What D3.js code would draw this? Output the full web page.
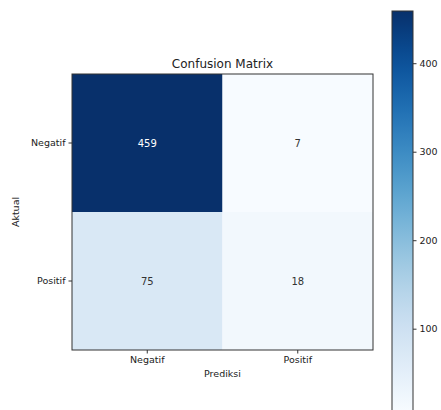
<!DOCTYPE html>
<html>
<head>
<meta charset="utf-8">
<script src="https://cdn.jsdelivr.net/npm/d3@7"></script>
<style>
  body { margin: 0; background: #fff; }
  text { font-family: "DejaVu Sans", sans-serif; fill: #222; }
</style>
</head>
<body>
<div id="chart"></div>
<script>
// data
const labels = ["Negatif", "Positif"]
const actual = ["Negatif", "Negatif", "Positif", "Positif"]
const predicted = ["Negatif", "Positif", "Negatif", "Positif"]
const counts = [459, 7, 75, 18]
const cbarTicks = [100, 200, 300, 400]

const width = 441, height = 410

const svg = d3.select('#chart').append('svg')
    .attr('width', width)
    .attr('height', height)

// plot area
const plot = { left: 72, top: 74, right: 373, bottom: 350 }

const x = d3.scaleBand().domain(labels).range([plot.left, plot.right])
const y = d3.scaleBand().domain(labels).range([plot.top, plot.bottom])

const vmin = d3.min(counts), vmax = d3.max(counts)
const color = d3.scaleSequential(d3.interpolateBlues).domain([vmin, vmax])

const cells = counts.map((v, i) => ({ a: actual[i], p: predicted[i], v: v }))

svg.append('g')
    .selectAll('rect')
    .data(cells)
    .enter()
    .append('rect')
    .attr('x', d => x(d.p))
    .attr('y', d => y(d.a))
    .attr('width', x.bandwidth())
    .attr('height', y.bandwidth())
    .attr('fill', d => color(d.v))

svg.append('g')
    .selectAll('text')
    .data(cells)
    .enter()
    .append('text')
    .attr('x', d => x(d.p) + x.bandwidth() / 2)
    .attr('y', d => y(d.a) + y.bandwidth() / 2)
    .attr('dy', '0.35em')
    .attr('text-anchor', 'middle')
    .style('font-size', '10px')
    .style('fill', d => d.v > (vmin + vmax) / 2 ? '#fff' : '#333')
    .text(d => d.v)

// frame
svg.append('rect')
    .attr('x', plot.left)
    .attr('y', plot.top)
    .attr('width', plot.right - plot.left)
    .attr('height', plot.bottom - plot.top)
    .attr('fill', 'none')
    .attr('stroke', '#333')
    .attr('stroke-width', 1)

// axes
const xAxis = svg.append('g')
    .attr('transform', `translate(0,${plot.bottom})`)
    .call(d3.axisBottom(x).tickSize(3.5).tickPadding(3))
const yAxis = svg.append('g')
    .attr('transform', `translate(${plot.left},0)`)
    .call(d3.axisLeft(y).tickSize(3.5).tickPadding(3))

for (const ax of [xAxis, yAxis]) {
    ax.select('.domain').remove()
    ax.selectAll('line').attr('stroke', '#333')
    ax.selectAll('text').style('font-size', '9.5px').attr('font-family', null).style('fill', '#222')
}

svg.append('text')
    .attr('x', (plot.left + plot.right) / 2)
    .attr('y', plot.top - 6)
    .attr('text-anchor', 'middle')
    .style('font-size', '12px')
    .text('Confusion Matrix')

svg.append('text')
    .attr('x', (plot.left + plot.right) / 2)
    .attr('y', plot.bottom + 27)
    .attr('text-anchor', 'middle')
    .style('font-size', '9.5px')
    .text('Prediksi')

svg.append('text')
    .attr('transform', `translate(19,${(plot.top + plot.bottom) / 2}) rotate(-90)`)
    .attr('text-anchor', 'middle')
    .style('font-size', '9.5px')
    .text('Aktual')

// colorbar
const cb = { left: 392, right: 413, top: 11, bottom: 411 }
const cy = d3.scaleLinear().domain([vmin, vmax]).range([cb.bottom, cb.top])

const defs = svg.append('defs')
const grad = defs.append('linearGradient')
    .attr('id', 'cbgrad')
    .attr('x1', 0).attr('y1', 1).attr('x2', 0).attr('y2', 0)
d3.range(0, 1.0001, 0.05).forEach(t => {
    grad.append('stop')
        .attr('offset', t)
        .attr('stop-color', d3.interpolateBlues(t))
})

svg.append('rect')
    .attr('x', cb.left)
    .attr('y', cb.top)
    .attr('width', cb.right - cb.left)
    .attr('height', cb.bottom - cb.top)
    .attr('fill', 'url(#cbgrad)')
    .attr('stroke', '#333')
    .attr('stroke-width', 1)

const cAxis = svg.append('g')
    .attr('transform', `translate(${cb.right},0)`)
    .call(d3.axisRight(cy).tickValues(cbarTicks).tickSize(3.5).tickPadding(3))
cAxis.select('.domain').remove()
cAxis.selectAll('line').attr('stroke', '#333')
cAxis.selectAll('text').style('font-size', '9.5px').attr('font-family', null).style('fill', '#222')
</script>
</body>
</html>
